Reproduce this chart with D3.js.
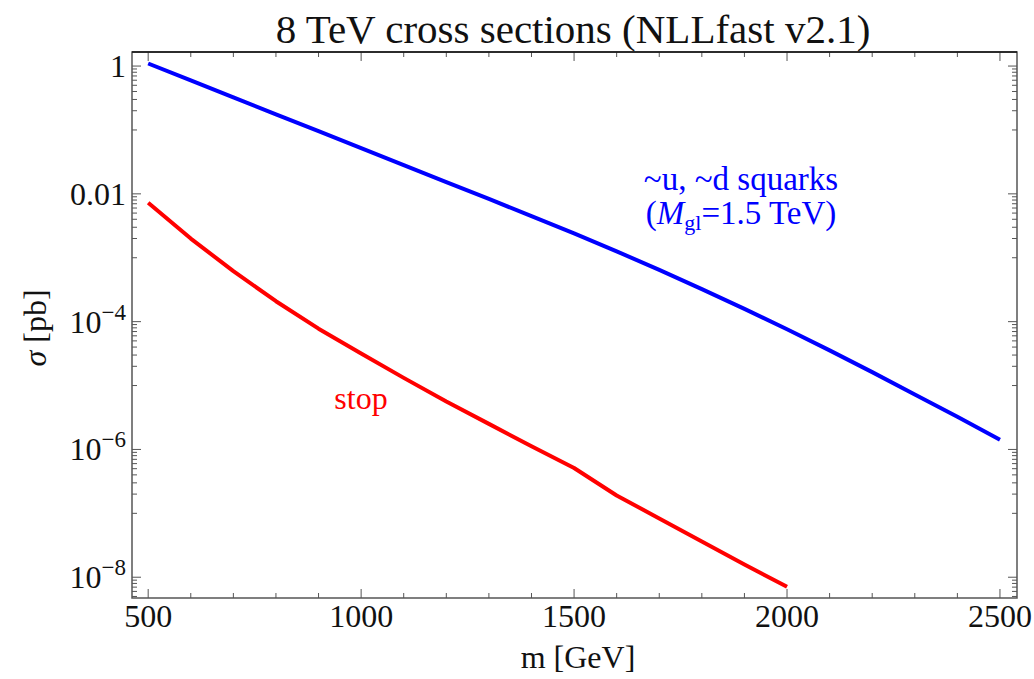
<!DOCTYPE html>
<html>
<head>
<meta charset="utf-8">
<script src="https://cdn.jsdelivr.net/npm/d3@7"></script>
<style>
  html, body { margin: 0; padding: 0; background: #fff; }
  svg { display: block; }
  text { font-family: "Liberation Serif", "Times New Roman", serif; }
</style>
</head>
<body>
<svg id="chart" width="1034" height="679"></svg>
<script>
// ---- data ----
const masses = [500, 600, 700, 800, 900, 1000, 1100, 1200, 1300, 1400, 1500,
                1600, 1700, 1800, 1900, 2000, 2100, 2200, 2300, 2400, 2500];
// log10 of sigma [pb]
const squarkLog = [0.04, -0.225, -0.49, -0.755, -1.02, -1.285, -1.55, -1.815, -2.08, -2.35, -2.62,
                   -2.90, -3.19, -3.49, -3.80, -4.12, -4.45, -4.79, -5.14, -5.49, -5.85];
const stopMasses = [500, 600, 700, 800, 900, 1000, 1100, 1200, 1300, 1400, 1500,
                    1600, 1700, 1800, 1900, 2000];
const stopLog = [-2.14, -2.70, -3.21, -3.68, -4.11, -4.50, -4.88, -5.25, -5.60, -5.95, -6.29,
                 -6.72, -7.08, -7.44, -7.80, -8.15];
const xTickValues = [500, 1000, 1500, 2000, 2500];
const yTickExp = [0, -2, -4, -6, -8];
const yTickLabels = ["1", "0.01", "10|−4", "10|−6", "10|−8"];

const squark = masses.map((m, i) => ({m, s: Math.pow(10, squarkLog[i])}));
const stop = stopMasses.map((m, i) => ({m, s: Math.pow(10, stopLog[i])}));

// ---- layout ----
const L = 132, R = 1017, T = 52, B = 598;
const svg = d3.select("#chart");

const x = d3.scaleLinear().domain([462, 2540]).range([L, R]);
const y = d3.scaleLog().domain([Math.pow(10, -8.325), Math.pow(10, 0.22)]).range([B, T]);

const frameColor = "#555";

// minor ticks
const xMinor = d3.range(500, 2501, 100).filter(v => v % 500 !== 0);
const yMinor = [];
yTickExp.forEach(e => {
  for (let k = 1; k <= 9; k++) {
    const v = k * Math.pow(10, e - 1);
    if (v >= y.domain()[0]) yMinor.push(v);
  }
});

const g = svg.append("g");

function xticks(vals, len) {
  const gg = g.append("g");
  gg.selectAll("line.b").data(vals).join("line").attr("class", "b")
    .attr("x1", d => x(d)).attr("x2", d => x(d))
    .attr("y1", B).attr("y2", B - len)
    .attr("stroke", frameColor).attr("stroke-width", 1);
  gg.selectAll("line.t").data(vals).join("line").attr("class", "t")
    .attr("x1", d => x(d)).attr("x2", d => x(d))
    .attr("y1", T).attr("y2", T + len)
    .attr("stroke", frameColor).attr("stroke-width", 1);
}
function yticks(vals, len) {
  const gg = g.append("g");
  gg.selectAll("line.l").data(vals).join("line").attr("class", "l")
    .attr("x1", L).attr("x2", L + len)
    .attr("y1", d => y(d)).attr("y2", d => y(d))
    .attr("stroke", frameColor).attr("stroke-width", 1);
  gg.selectAll("line.r").data(vals).join("line").attr("class", "r")
    .attr("x1", R).attr("x2", R - len)
    .attr("y1", d => y(d)).attr("y2", d => y(d))
    .attr("stroke", frameColor).attr("stroke-width", 1);
}
xticks(xTickValues, 9);
xticks(xMinor, 5);
yticks(yTickExp.map(e => Math.pow(10, e)), 9);
yticks(yMinor, 5);

// frame
g.append("rect").attr("x", L).attr("y", T).attr("width", R - L).attr("height", B - T)
  .attr("fill", "none").attr("stroke", frameColor).attr("stroke-width", 1.5);
g.append("line").attr("x1", L).attr("x2", R).attr("y1", T).attr("y2", T)
  .attr("stroke", "#111").attr("stroke-width", 1.5);

// tick labels
g.append("g").selectAll("text").data(xTickValues).join("text")
  .attr("x", d => x(d)).attr("y", 627)
  .attr("text-anchor", "middle").attr("font-size", 32).attr("fill", "#111")
  .text(d => d);

const yl = g.append("g").selectAll("text").data(yTickExp).join("text")
  .attr("x", 126).attr("y", d => y(Math.pow(10, d)) + 11)
  .attr("text-anchor", "end").attr("font-size", 32).attr("fill", "#111");
yl.each(function(d, i) {
  const parts = yTickLabels[i].split("|");
  const t = d3.select(this);
  t.append("tspan").text(parts[0]);
  if (parts[1]) t.append("tspan").attr("font-size", 23).attr("dy", -13).text(parts[1]);
});

// curves
const line = d3.line().x(d => x(d.m)).y(d => y(d.s)).curve(d3.curveLinear);
g.append("path").datum(squark).attr("d", line)
  .attr("fill", "none").attr("stroke", "#0000ff").attr("stroke-width", 4)
  .attr("stroke-linejoin", "round");
g.append("path").datum(stop).attr("d", line)
  .attr("fill", "none").attr("stroke", "#ff0000").attr("stroke-width", 4)
  .attr("stroke-linejoin", "round");

// title and axis labels
svg.append("text").attr("x", 573).attr("y", 43).attr("text-anchor", "middle")
  .attr("font-size", 41).attr("fill", "#111").text("8 TeV cross sections (NLLfast v2.1)");
svg.append("text").attr("x", 578).attr("y", 668).attr("text-anchor", "middle")
  .attr("font-size", 32).attr("fill", "#111").text("m [GeV]");
const ylab = svg.append("text").attr("transform", "translate(46,328) rotate(-90)")
  .attr("text-anchor", "middle").attr("font-size", 32).attr("fill", "#111");
ylab.append("tspan").attr("font-style", "italic").text("σ");
ylab.append("tspan").text(" [pb]");

// annotations
svg.append("text").attr("x", 741).attr("y", 190).attr("text-anchor", "middle")
  .attr("font-size", 33).attr("fill", "#0000ff").text("~u, ~d squarks");
const a2 = svg.append("text").attr("x", 741).attr("y", 224).attr("text-anchor", "middle")
  .attr("font-size", 33).attr("fill", "#0000ff");
a2.append("tspan").text("(");
a2.append("tspan").attr("font-style", "italic").text("M");
a2.append("tspan").attr("font-size", 22).attr("dy", 6).text("gl");
a2.append("tspan").attr("dy", -6).text("=1.5 TeV)");
svg.append("text").attr("x", 361).attr("y", 409).attr("text-anchor", "middle")
  .attr("font-size", 32).attr("fill", "#ff0000").text("stop");
</script>
</body>
</html>
